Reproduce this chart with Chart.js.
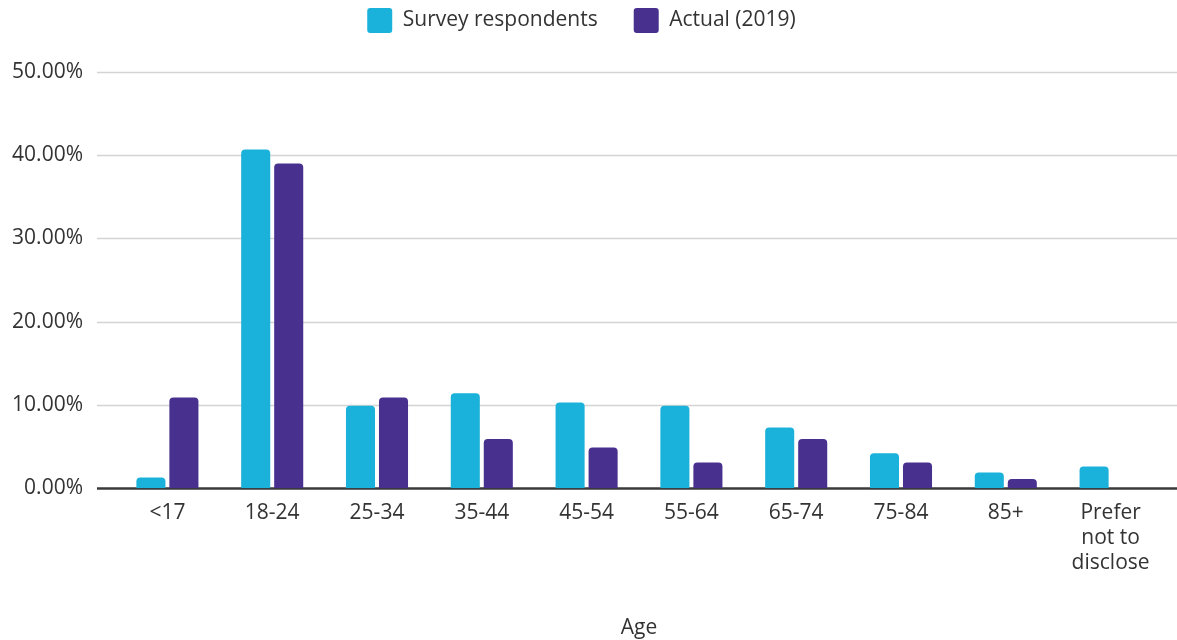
<!DOCTYPE html>
<html>
<head>
<meta charset="utf-8">
<script src="https://cdn.jsdelivr.net/npm/chart.js@4/dist/chart.umd.min.js"></script>
<style>
html,body{margin:0;padding:0;background:#fff;}
#wrap{width:1177px;height:640px;position:relative;}
</style>
</head>
<body>
<div id="wrap"><canvas id="c"></canvas></div>
<script>
const categories = ["<17","18-24","25-34","35-44","45-54","55-64","65-74","75-84","85+",["Prefer","not to","disclose"]];
const surveyRespondents = [1.3, 40.7, 9.9, 11.4, 10.3, 9.9, 7.3, 4.2, 1.9, 2.6];
const actual2019 = [10.9, 39.0, 10.9, 5.9, 4.9, 3.1, 5.9, 3.1, 1.1, null];
const seriesNames = ["Survey respondents", "Actual (2019)"];
const yTicks = [0, 10, 20, 30, 40, 50];
const axisTitle = "Age";

const FONT = "'Open Sans', 'Noto Sans', sans-serif";
const TXT = "#333333";
const FS = 21;

const gridPlugin = {
  id: 'gridExt',
  beforeDatasetsDraw(chart) {
    const ctx = chart.ctx, y = chart.scales.y;
    ctx.save();
    yTicks.forEach(v => {
      const py = Math.round(y.getPixelForValue(v)) + 0.5;
      ctx.beginPath();
      ctx.moveTo(97, py);
      ctx.lineTo(chart.width, py);
      if (v === 0) { ctx.strokeStyle = '#3a3a3a'; ctx.lineWidth = 2.5; }
      else { ctx.strokeStyle = '#d4d4d4'; ctx.lineWidth = 1.6; }
      ctx.stroke();
    });
    ctx.restore();
  }
};

// spacer between legend and plot area
const spacerPlugin = {
  id: 'spacer',
  beforeInit(chart) {
    const box = {
      position: 'top', weight: 100, fullSize: true, options: {},
      left: 0, top: 0, right: 0, bottom: 0, width: 0, height: 0,
      isHorizontal() { return true; },
      update(maxW) { this.width = maxW; this.height = 29; },
      draw() {}
    };
    Chart.layouts.addBox(chart, box);
  }
};

new Chart(document.getElementById('c'), {
  type: 'bar',
  data: {
    labels: categories,
    datasets: [
      { label: seriesNames[0], data: surveyRespondents, backgroundColor: '#1AB1DA',
        borderRadius: {topLeft:4, topRight:4}, borderSkipped: 'bottom',
        categoryPercentage: 0.63, barPercentage: 0.88 },
      { label: seriesNames[1], data: actual2019, backgroundColor: '#48308F',
        borderRadius: {topLeft:4, topRight:4}, borderSkipped: 'bottom',
        categoryPercentage: 0.63, barPercentage: 0.88 }
    ]
  },
  options: {
    responsive: true,
    maintainAspectRatio: false,
    animation: false,
    layout: { padding: { left: 0, right: 14, top: -28, bottom: -1 } },
    plugins: {
      legend: {
        position: 'top',
        labels: {
          boxWidth: 25, boxHeight: 25, useBorderRadius: true, borderRadius: 3,
          color: TXT, font: { family: FONT, size: FS }, padding: 36
        }
      },
      tooltip: { enabled: false }
    },
    scales: {
      x: {
        grid: { display: false, drawTicks: false },
        border: { display: false },
        ticks: { color: TXT, font: { family: FONT, size: FS, lineHeight: 1.2 }, padding: 12, maxRotation: 0, autoSkip: false },
        title: { display: true, text: axisTitle, color: TXT, font: { family: FONT, size: FS }, padding: { top: 28, bottom: 0 } }
      },
      y: {
        min: 0, max: 50,
        afterFit(scale) { scale.width = 115; },
        afterBuildTicks(scale) { scale.ticks = yTicks.map(v => ({ value: v })); },
        grid: { display: false, drawTicks: false },
        border: { display: false },
        ticks: { color: TXT, font: { family: FONT, size: FS }, padding: 32,
          callback: v => v.toFixed(2) + '%' }
      }
    }
  },
  plugins: [gridPlugin, spacerPlugin]
});
</script>
</body>
</html>
